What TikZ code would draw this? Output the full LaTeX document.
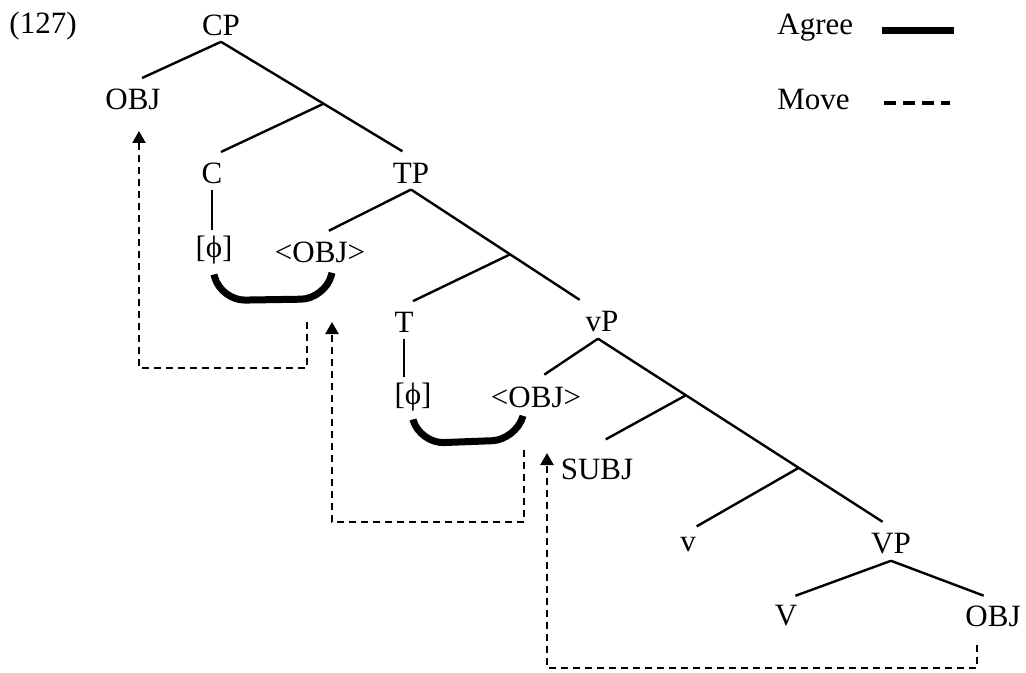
\documentclass[tikz,border=0pt]{standalone}
\usepackage{fontspec}
\setmainfont{Liberation Serif}
\usetikzlibrary{arrows.meta}
\tikzset{
  branch/.style={line width=1.2pt},
  leaf/.style={branch, shorten >=5pt},
  agree/.style={line width=3.5pt},
  move/.style={line width=1.1pt, dash pattern=on 3.5pt off 2.5pt, -{Triangle[length=6pt,width=6.5pt]}},
  keydash/.style={line width=2pt, dash pattern=on 6pt off 3.5pt}
}
\begin{document}
\begin{tikzpicture}[x=0.5pt, y=-0.5pt, every node/.style={font=\fontsize{15.5}{18}\selectfont, inner xsep=1pt, inner ysep=3pt}]
  \useasboundingbox (0,0) rectangle (1026,673);

  \node (ex) at (43,26) {(127)};
  \node (cp) at (221,25) {CP};
  \node (obj1) at (133,99) {OBJ};
  \node (c) at (212,173) {C};
  \node (tp) at (411,173) {TP};
  \node (phi1) at (214,250) {[ϕ]};
  \node (tobj1) at (320,252) {<OBJ>};
  \node (t) at (404,322) {T};
  \node (vp) at (602,322) {vP};
  \node (phi2) at (413,397) {[ϕ]};
  \node (tobj2) at (536,397) {<OBJ>};
  \node (subj) at (597,469) {SUBJ};
  \node (v) at (688,545) {v};
  \node (vvp) at (891,544) {VP};
  \node (vv) at (786,616) {V};
  \node (obj2) at (993,616) {OBJ};

  \draw[leaf] (cp.south) -- (obj1.north);
  \draw[leaf] (cp.south) -- coordinate[pos=0.54] (cbar) (tp.north);
  \draw[leaf] (cbar) -- (c.north);
  \draw[branch] (c.south) -- (c.south |- phi1.north);
  \draw[leaf] (tp.south) -- (tobj1.north);
  \draw[leaf] (tp.south) -- coordinate[pos=0.56] (tbar) ([xshift=-7pt]vp.north);
  \draw[leaf] (tbar) -- (t.north);
  \draw[branch] (t.south) -- (t.south |- phi2.north);
  \draw[leaf] ([xshift=-2pt]vp.south) -- (tobj2.north);
  \draw[leaf] ([xshift=-2pt]vp.south) -- coordinate[pos=0.3] (vbar) coordinate[pos=0.685] (vvbar) (vvp.north);
  \draw[leaf] (vbar) -- ([yshift=4pt]subj.north);
  \draw[leaf] (vvbar) -- (v.north);
  \draw[leaf] (vvp.south) -- (vv.north);
  \draw[leaf] (vvp.south) -- (obj2.north);

  \draw[agree, rounded corners=12pt] ([yshift=-2pt]phi1.south) -- ++(7,26) -- ([xshift=2.5pt,yshift=-15pt]tobj1.south) -- ([xshift=6pt,yshift=-2pt]tobj1.south);
  \draw[agree, rounded corners=12pt] ([yshift=-1pt]phi2.south) -- ++(7,24) -- ([xshift=-10pt,yshift=-13pt]tobj2.south) -- ([xshift=-6.5pt,yshift=-1pt]tobj2.south);

  \coordinate (mv1a) at (307,322);
  \coordinate (mv1b) at (139,131);
  \coordinate (mv2a) at (524,450);
  \coordinate (mv2b) at (332,322);
  \coordinate (mv3a) at (977,645);
  \coordinate (mv3b) at (547,453);
  \draw[move] (mv1a) -- ++(0,46) -| (mv1b);
  \draw[move] (mv2a) -- ++(0,72) -| (mv2b);
  \draw[move] (mv3a) -- ++(0,23) -| (mv3b);

  \node[anchor=west] (agreekey) at (775,28) {Agree};
  \node[anchor=west] (movekey) at (775,100) {Move};
  \draw[agree] ([xshift=13pt,yshift=-1.5pt]agreekey.east) -- ++(72,0);
  \draw[keydash] ([xshift=16pt,yshift=-1.5pt]movekey.east) -- ++(66,0);
\end{tikzpicture}
\end{document}
